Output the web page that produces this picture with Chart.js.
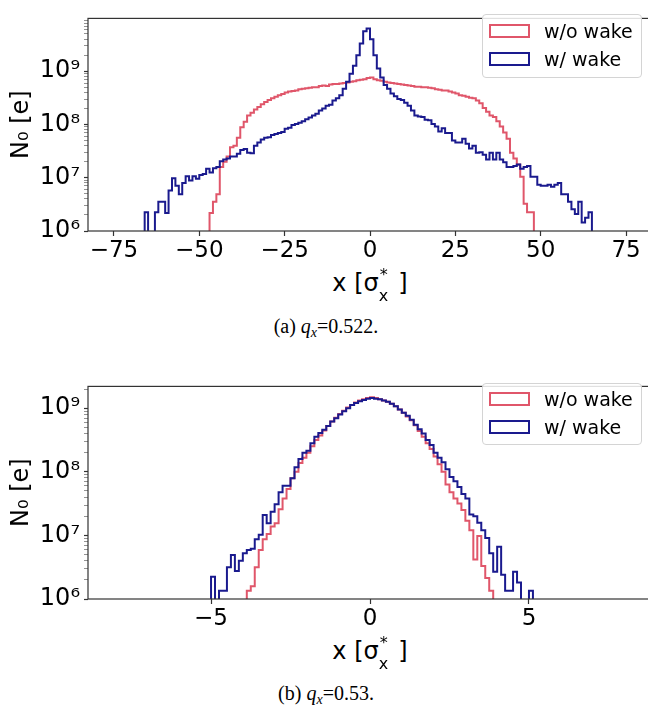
<!DOCTYPE html>
<html>
<head>
<meta charset="utf-8">
<script src="https://cdn.jsdelivr.net/npm/chart.js@4.4.1/dist/chart.umd.min.js"></script>
<style>
  body { margin: 0; width: 648px; height: 707px; overflow: hidden; position: relative; background: #fff; }
  .wrap { position: absolute; left: 0; width: 660px; height: 262px; }
  .xt { position: absolute; left: 88px; width: 564px; text-align: center; font: 24px 'DejaVu Sans'; line-height: 28px; color: #000; }
  .ss { display: inline-block; position: relative; width: 12px; height: 20px; }
  .ss .sp { position: absolute; left: 1px; top: -10px; font-size: 16px; }
  .ss .sb { position: absolute; left: 0; top: 11px; font-size: 16px; }
  .cap { position: absolute; left: 0; width: 652px; text-align: center; font: 20px 'Liberation Serif'; line-height: 20px; color: #000; }
  .cap sub { font-size: 14px; vertical-align: -4px; }
  .leg { position: absolute; left: 482px; width: 158px; border: 1px solid #d4d4d4; border-radius: 4px; background: rgba(255,255,255,0.85); font: 19px 'DejaVu Sans'; }
  .leg .row { position: absolute; left: 0; height: 22px; line-height: 22px; white-space: nowrap; }
  .leg .sw { position: absolute; left: 6px; top: 4px; width: 37px; height: 10px; border: 2px solid; }
  .leg .tx { position: absolute; left: 61px; top: 0; }
</style>
</head>
<body>
<div class="wrap" style="top:0"><canvas id="topChart" width="660" height="262"></canvas></div>
<div class="xt" style="top:269px">x [σ<span class="ss"><span class="sp">*</span><span class="sb">x</span></span> ]</div>
<div class="cap" style="top:316px">(a) <i>q</i><sub><i>x</i></sub>=0.522.</div>
<div class="leg" style="top:14px;height:62px">
  <div class="row" style="top:5px"><span class="sw" style="border-color:#e0566a"></span><span class="tx">w/o wake</span></div>
  <div class="row" style="top:33px"><span class="sw" style="border-color:#1a1a8e"></span><span class="tx">w/ wake</span></div>
</div>

<div class="wrap" style="top:368px"><canvas id="botChart" width="660" height="262"></canvas></div>
<div class="xt" style="top:637px">x [σ<span class="ss"><span class="sp">*</span><span class="sb">x</span></span> ]</div>
<div class="cap" style="top:683px">(b) <i>q</i><sub><i>x</i></sub>=0.53.</div>
<div class="leg" style="top:383px;height:60px">
  <div class="row" style="top:4px"><span class="sw" style="border-color:#e0566a"></span><span class="tx">w/o wake</span></div>
  <div class="row" style="top:32px"><span class="sw" style="border-color:#1a1a8e"></span><span class="tx">w/ wake</span></div>
</div>

<script>
const RED = "#e0566a";
const BLUE = "#1a1a8e";

// log10 of counts per bin
// (a) q_x = 0.522, bins of width 1
const topRedStart = -47;
const topRedWidth = 1;
const topRedLog = [
  6.34, 6.55, 6.69, 7.2, 7.3, 7.4, 7.57, 7.6, 7.75, 7.95,
  8.05, 8.17, 8.22, 8.28, 8.33, 8.38, 8.42, 8.46, 8.49, 8.52,
  8.55, 8.57, 8.6, 8.62, 8.63, 8.64, 8.66, 8.67, 8.68, 8.69,
  8.7, 8.7, 8.72, 8.73, 8.72, 8.75, 8.76, 8.76, 8.77, 8.78,
  8.79, 8.8, 8.81, 8.83, 8.84, 8.85, 8.87, 8.88, 8.85, 8.83,
  8.82, 8.8, 8.79, 8.78, 8.77, 8.76, 8.75, 8.74, 8.73, 8.72,
  8.71, 8.71, 8.7, 8.7, 8.69, 8.68, 8.66, 8.65, 8.64, 8.64,
  8.62, 8.6, 8.58, 8.55, 8.54, 8.52, 8.5, 8.49, 8.45, 8.4,
  8.31, 8.24, 8.17, 8.14, 8.06, 7.96, 7.85, 7.73, 7.47, 7.36,
  7.25, 7.02, 6.51, 6.35, 6.35
];
const topBlueStart = -66;
const topBlueWidth = 1;
const topBlueLog = [
  6.35, 5.5, 5.5, 6.35, 6.55, 6.55, 6.34, 6.76, 6.99, 6.85,
  6.69, 6.9, 7.03, 6.95, 7.03, 6.98, 7.05, 7.07, 7.17, 7.1,
  7.18, 7.2, 7.31, 7.34, 7.36, 7.4, 7.4, 7.45, 7.52, 7.54,
  7.47, 7.46, 7.6, 7.66, 7.72, 7.75, 7.76, 7.8, 7.82, 7.84,
  7.86, 7.92, 7.94, 7.99, 8.01, 8.03, 8.06, 8.1, 8.13, 8.17,
  8.2, 8.26, 8.3, 8.35, 8.37, 8.45, 8.49, 8.55, 8.67, 8.8,
  8.95, 9.1, 9.3, 9.52, 9.75, 9.8, 9.6, 9.3, 9.05, 8.88,
  8.74, 8.67, 8.58, 8.53, 8.48, 8.46, 8.41, 8.35, 8.26, 8.17,
  8.15, 8.14, 8.09, 8.08, 8.01, 7.96, 7.87, 7.93, 7.84, 7.84,
  7.7, 7.66, 7.66, 7.73, 7.64, 7.55, 7.6, 7.47, 7.48, 7.43,
  7.34, 7.47, 7.34, 7.47, 7.34, 7.29, 7.2, 7.2, 7.22, 7.25,
  7.17, 7.2, 7.22, 7.02, 7.02, 6.87, 6.85, 6.85, 6.87, 6.83,
  6.87, 6.9, 6.69, 6.69, 6.55, 6.41, 6.32, 6.55, 6.16, 6.25,
  6.35
];

// (b) q_x = 0.53, bins of width 0.125
const botRedStart = -3.875;
const botRedWidth = 0.125;
const botRedLog = [
  6.13, 6.2, 6.5, 6.77, 6.94, 7.02, 7.14, 7.19, 7.41, 7.58,
  7.73, 7.9, 8.0, 8.14, 8.22, 8.3, 8.4, 8.5, 8.57, 8.65,
  8.72, 8.79, 8.85, 8.91, 8.96, 9.01, 9.05, 9.09, 9.12, 9.14,
  9.16, 9.17, 9.16, 9.14, 9.12, 9.1, 9.07, 9.03, 8.98, 8.93,
  8.87, 8.81, 8.73, 8.64, 8.55, 8.45, 8.36, 8.24, 8.12, 8.0,
  7.8, 7.68, 7.58, 7.5, 7.4, 7.23, 7.08, 6.62, 6.99, 6.52,
  6.33, 6.13
];
const botBlueStart = -5;
const botBlueWidth = 0.125;
const botBlueLog = [
  6.35, 5.5, 6.13, 6.13, 6.5, 6.69, 6.44, 6.6, 6.72, 6.77,
  6.79, 6.94, 7.01, 7.32, 7.19, 7.37, 7.49, 7.68, 7.78, 7.78,
  7.9, 8.07, 8.2, 8.3, 8.33, 8.45, 8.55, 8.61, 8.66, 8.72,
  8.79, 8.84, 8.9, 8.95, 9.0, 9.05, 9.08, 9.11, 9.13, 9.15,
  9.16, 9.15, 9.14, 9.12, 9.1, 9.07, 9.03, 8.98, 8.93, 8.88,
  8.82, 8.74, 8.67, 8.6, 8.5, 8.42, 8.3, 8.22, 8.15, 8.04,
  7.92, 7.85, 7.76, 7.65, 7.58, 7.33, 7.3, 7.2, 7.08, 6.96,
  6.72, 6.43, 6.82, 6.38, 6.13, 6.13, 6.43, 6.26, 5.5, 5.5,
  6.13
];

const topXTicks = [-75, -50, -25, 0, 25, 50, 75];
const botXTicks = [-5, 0, 5];
const yMajorTicks = [1e6, 1e7, 1e8, 1e9];
const yTickLabels = ["10⁶", "10⁷", "10⁸", "10⁹"];

const FLOOR = 1e5;

// step outline: rise at first edge, flat across each bin, drop at last edge
function stepPoints(start, width, logs) {
  const pts = [{ x: start, y: FLOOR }];
  logs.forEach((v, i) => pts.push({ x: start + i * width, y: Math.pow(10, v) }));
  pts.push({ x: start + logs.length * width, y: FLOOR });
  return pts;
}

function logTicks(max) {
  const out = [];
  for (let e = 6; e <= 9; e++) {
    for (let k = 1; k <= 9; k++) {
      const v = k * Math.pow(10, e);
      if (v <= max) out.push({ value: v });
    }
  }
  return out;
}

const framePlugin = {
  id: "frame",
  afterDraw(chart) {
    const { ctx, chartArea: a } = chart;
    ctx.save();
    ctx.strokeStyle = "#333";
    ctx.lineWidth = 1.2;
    ctx.strokeRect(a.left, a.top, a.right - a.left, a.bottom - a.top);
    ctx.restore();
  }
};

const fmtX = (v) => (v < 0 ? "\u2212" + Math.abs(v) : String(v));

function makeChart(id, red, blue, xr, xTicks, yMax) {
  return new Chart(document.getElementById(id), {
    type: "line",
    data: {
      datasets: [
        { label: "w/o wake", data: red, borderColor: RED, borderWidth: 2, stepped: "before",
          pointRadius: 0, fill: false, tension: 0, order: 2 },
        { label: "w/ wake", data: blue, borderColor: BLUE, borderWidth: 2, stepped: "before",
          pointRadius: 0, fill: false, tension: 0, order: 1 }
      ]
    },
    options: {
      responsive: false,
      animation: false,
      layout: { padding: { top: 5, right: 8, left: 0, bottom: 0 } },
      plugins: { legend: { display: false }, tooltip: { enabled: false } },
      scales: {
        x: {
          type: "linear", min: -xr, max: xr,
          afterBuildTicks: (axis) => { axis.ticks = xTicks.map(v => ({ value: v })); },
          afterFit: (scale) => { scale.height = 31; },
          border: { display: false },
          grid: { drawOnChartArea: false, drawTicks: true, tickLength: 5, tickColor: "#333", tickWidth: 1.2 },
          ticks: { font: { family: "DejaVu Sans", size: 23 }, color: "#000", padding: 1, maxRotation: 0,
                   autoSkip: false, callback: (v) => fmtX(v) }
        },
        y: {
          type: "logarithmic", min: 1e6, max: yMax,
          afterBuildTicks: (axis) => { axis.ticks = logTicks(yMax); },
          afterFit: (scale) => { scale.width = 88; },
          border: { display: false },
          grid: { drawOnChartArea: false, drawTicks: true, tickLength: 4,
                  tickColor: (c) => yMajorTicks.includes(c.tick.value) ? "#333" : "#777",
                  tickWidth: (c) => yMajorTicks.includes(c.tick.value) ? 1.2 : 0.8 },
          ticks: { font: { family: "DejaVu Sans", size: 24 }, color: "#000", padding: 4, autoSkip: false,
                   callback: (v) => { const i = yMajorTicks.indexOf(v); return i >= 0 ? yTickLabels[i] : ""; } },
          title: { display: true, text: "N₀ [e]", font: { family: "DejaVu Sans", size: 24 }, color: "#000",
                   padding: { top: 7, bottom: 0 } }
        }
      }
    },
    plugins: [framePlugin]
  });
}

makeChart("topChart",
  stepPoints(topRedStart, topRedWidth, topRedLog),
  stepPoints(topBlueStart, topBlueWidth, topBlueLog),
  82.6, topXTicks, 9.8e9);

makeChart("botChart",
  stepPoints(botRedStart, botRedWidth, botRedLog),
  stepPoints(botBlueStart, botBlueWidth, botBlueLog),
  8.87, botXTicks, 2.2e9);
</script>
</body>
</html>
